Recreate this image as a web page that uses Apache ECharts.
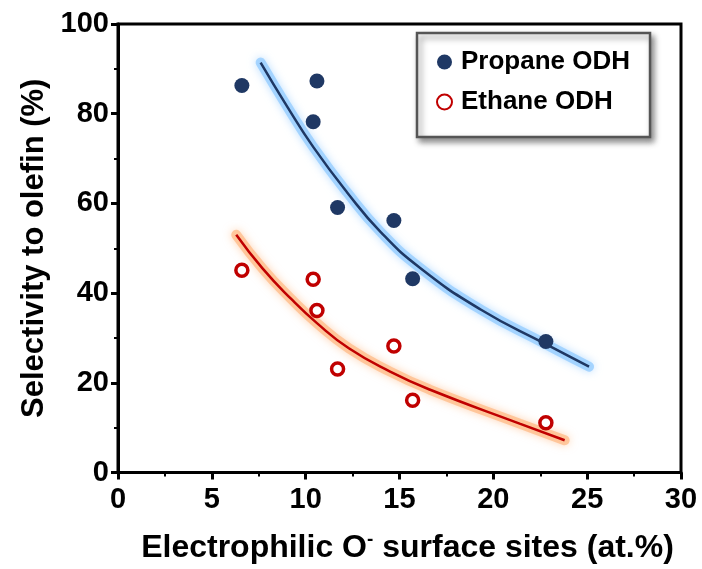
<!DOCTYPE html>
<html>
<head>
    <meta charset="UTF-8">
    <title>Selectivity vs electrophilic O-</title>
    <script src="https://cdn.jsdelivr.net/npm/echarts@6/dist/echarts.min.js"></script>
    <style>
        html, body { margin: 0; padding: 0; background: #fff; }
        #chart { width: 702px; height: 569px; }
    </style>
</head>
<body>
    <div id="chart"></div>
    <script>
        // measured points [O- at.%, selectivity %]
        var propanePts = [[6.6, 86.3], [10.6, 87.3], [10.4, 78.2], [11.7, 59.1], [14.7, 56.2], [15.7, 43.2], [22.8, 29.2]];
        var ethanePts = [[6.6, 45.1], [10.4, 43.1], [10.6, 36.1], [11.7, 23.1], [14.7, 28.2], [15.7, 16.1], [22.8, 11.1]];
        // fitted trend lines
        var propaneFit = [[7.6, 91.4], [9.0, 81.7], [10.4, 72.6], [12.2, 62.5], [14.0, 53.6], [16.1, 45.6], [19.3, 36.4], [22.8, 28.6], [25.1, 23.6]];
        var ethaneFit = [[6.3, 53.0], [7.7, 45.5], [9.2, 38.8], [10.6, 33.3], [12.3, 27.7], [14.5, 22.5], [16.6, 18.5], [21.4, 10.9], [23.8, 7.2]];

        var navy = '#1f3864';
        var red = '#c00000';
        var font = 'Liberation Sans, Arial, sans-serif';

        // soft halo drawn under each fit line
        function glow(data, col) {
            return {
                type: 'line', data: data, smooth: true, showSymbol: false, silent: true, z: 0,
                lineStyle: { color: col, width: 10, cap: 'round', shadowColor: col, shadowBlur: 8 }
            };
        }
        function fit(data, col) {
            return {
                type: 'line', data: data, smooth: true, showSymbol: false, silent: true, z: 1,
                lineStyle: { color: col, width: 2.5 }
            };
        }

        var chart = echarts.init(document.getElementById('chart'));
        var option = {
            animation: false,
            grid: {
                left: 118, right: 21, top: 24, bottom: 94,
                show: true, borderColor: '#000', borderWidth: 3
            },
            legend: {
                orient: 'vertical',
                left: 417, top: 33,
                data: ['Propane ODH', 'Ethane ODH'],
                icon: 'circle',
                itemWidth: 15, itemHeight: 15,
                itemGap: 14,
                padding: [16, 20, 22, 19],
                backgroundColor: '#fff',
                borderColor: '#555',
                borderWidth: 2.5,
                shadowColor: 'rgba(0,0,0,0.45)',
                shadowBlur: 6,
                shadowOffsetX: 3,
                shadowOffsetY: 4,
                textStyle: { fontFamily: font, fontWeight: 'bold', fontSize: 26, color: '#000', padding: [0, 0, 0, 4] }
            },
            xAxis: {
                type: 'value', min: 0, max: 30, interval: 5,
                name: 'Electrophilic O{sup|-} surface sites (at.%)',
                nameLocation: 'middle', nameGap: 58,
                nameTextStyle: {
                    fontFamily: font, fontWeight: 'bold', fontSize: 32, color: '#000',
                    padding: [0, 0, 0, 16],
                    rich: { sup: { fontFamily: font, fontWeight: 'bold', fontSize: 19, color: '#000', padding: [0, 0, 16, 0] } }
                },
                axisLine: { lineStyle: { color: '#000', width: 3 } },
                axisTick: { length: 7, lineStyle: { color: '#000', width: 3 } },
                minorTick: { show: true, splitNumber: 2, length: 4, lineStyle: { color: '#000', width: 2 } },
                splitLine: { show: false },
                axisLabel: { margin: 13, fontFamily: font, fontWeight: 'bold', fontSize: 29, color: '#000' }
            },
            yAxis: {
                type: 'value', min: 0, max: 100, interval: 20,
                name: 'Selectivity to olefin (%)',
                nameLocation: 'middle', nameGap: 68,
                nameTextStyle: { fontFamily: font, fontWeight: 'bold', fontSize: 31, color: '#000' },
                axisLine: { show: true, lineStyle: { color: '#000', width: 3 } },
                axisTick: { show: true, length: 7, lineStyle: { color: '#000', width: 3 } },
                minorTick: { show: true, splitNumber: 2, length: 4, lineStyle: { color: '#000', width: 2 } },
                splitLine: { show: false },
                axisLabel: { margin: 9, fontFamily: font, fontWeight: 'bold', fontSize: 29, color: '#000' }
            },
            series: [
                glow(propaneFit, 'rgba(150,205,255,0.8)'),
                glow(ethaneFit, 'rgba(255,190,140,0.8)'),
                fit(propaneFit, navy),
                fit(ethaneFit, red),
                {
                    name: 'Propane ODH', type: 'scatter', data: propanePts, symbol: 'circle', symbolSize: 15, z: 3,
                    itemStyle: { color: navy, opacity: 1 }
                },
                {
                    name: 'Ethane ODH', type: 'scatter', data: ethanePts, symbol: 'circle', symbolSize: 12, z: 3,
                    itemStyle: { color: '#fff', borderColor: red, borderWidth: 3.5, opacity: 1 }
                }
            ]
        };
        chart.setOption(option);
    </script>
</body>
</html>
